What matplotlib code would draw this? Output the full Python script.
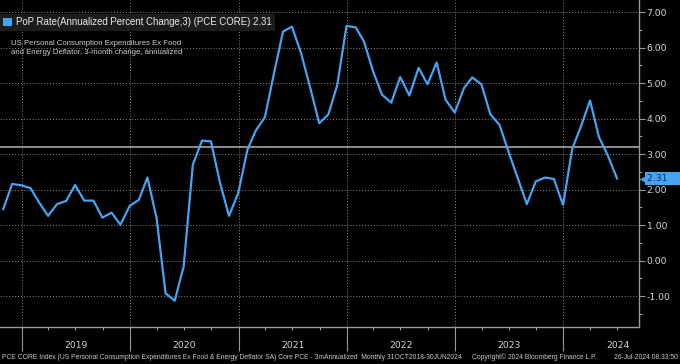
import numpy as np
import pandas as pd
import matplotlib
matplotlib.use('Agg')
import matplotlib.pyplot as plt
import matplotlib.dates as mdates
import matplotlib.transforms as mtransforms
from matplotlib.patches import Patch

# PCE core, 3-month change annualized, month-end Oct 2018 .. Jun 2024
fechas = pd.date_range('2018-10-31', periods=69, freq='ME')
pce_3m = [1.45, 2.16, 2.12,
          2.04, 1.65, 1.26, 1.59, 1.68, 2.13, 1.69, 1.69, 1.21, 1.35, 1.01, 1.54,   # 2019
          1.71, 2.34, 1.19, -0.92, -1.13, -0.17, 2.70, 3.38, 3.36, 2.18, 1.26, 1.90,  # 2020
          3.12, 3.66, 4.04, 5.25, 6.45, 6.59, 5.84, 4.86, 3.87, 4.12, 4.95, 6.61,  # 2021
          6.57, 6.17, 5.32, 4.67, 4.45, 5.17, 4.65, 5.43, 4.97, 5.58, 4.53, 4.17,  # 2022
          4.86, 5.16, 4.96, 4.12, 3.82, 3.07, 2.33, 1.59, 2.23, 2.34, 2.30, 1.57,  # 2023
          3.15, 3.77, 4.51, 3.48, 2.94, 2.31]                                      # 2024
linea_ref = 3.21
anios = [2019, 2020, 2021, 2022, 2023, 2024]
y_ticks = [-1, 0, 1, 2, 3, 4, 5, 6, 7]

titulo = 'PoP Rate(Annualized Percent Change,3) (PCE CORE) 2.31'
descripcion = 'US Personal Consumption Expenditures Ex Food\nand Energy Deflator, 3-month change, annualized'
pie_izq = ('PCE CORE Index (US Personal Consumption Expenditures Ex Food & Energy Deflator SA) '
           'Core PCE - 3mAnnualized  Monthly 31OCT2018-30JUN2024')
pie_copy = 'Copyright\u00a9 2024 Bloomberg Finance L.P.'
pie_fecha = '26-Jul-2024 08:33:50'

azul = '#45a3f2'
gris = '#9a9a9a'
texto = '#d6d6d6'

W, H = 680, 364
fig = plt.figure(figsize=(W/100, H/100), dpi=100, facecolor='black')
ax = fig.add_axes([0, 1-327/H, 639/W, 327/H], facecolor='black')

ax.plot(fechas, pce_3m, color=azul, lw=1.6, zorder=3)
ax.axhline(linea_ref, color='#b4b4b4', lw=1.1, zorder=2)

ax.set_xlim(pd.Timestamp('2018-10-20'), pd.Timestamp('2024-09-12'))
ax.set_ylim(-1.87, 7.34)

# ejes
for s in ['top', 'left']:
    ax.spines[s].set_visible(False)
for s in ['right', 'bottom']:
    ax.spines[s].set_color(gris)
    ax.spines[s].set_linewidth(1.0)

ax.yaxis.tick_right()
ax.set_yticks(y_ticks)
ax.set_yticklabels([f'{v:.2f}' for v in y_ticks])
ax.set_yticks(np.arange(-1.5, 7.5, 1.0), minor=True)
ax.tick_params(axis='y', which='major', direction='out', length=4, width=0.8,
               color=gris, labelcolor=texto, labelsize=6.7, pad=1.5)
ax.tick_params(axis='y', which='minor', direction='out', length=2.5, width=0.8, color=gris)

ax.xaxis.set_major_locator(mdates.YearLocator())
ax.xaxis.set_minor_locator(mdates.MonthLocator(bymonth=[4, 7, 10]))
ax.tick_params(axis='x', which='major', direction='out', length=17, width=0.8,
               color=gris, labelbottom=False)
ax.tick_params(axis='x', which='minor', direction='out', length=2.5, width=0.8, color=gris)

ax.grid(which='major', ls=(0, (1, 2)), color='#8c8c8c', lw=0.7)

# etiquetas de años
for a in anios:
    ax.text(pd.Timestamp(f'{a}-07-02'), -0.058, str(a), transform=ax.get_xaxis_transform(),
            ha='center', va='center', color=texto, fontsize=6.6, clip_on=False)

# valor último
ultimo = pce_3m[-1]
trans = mtransforms.blended_transform_factory(ax.transAxes, ax.transData)
ax.text(1.012, ultimo, f'{ultimo:.2f}    ', transform=trans, ha='left', va='center',
        color='#0b2a55', fontsize=6.7,
        bbox=dict(boxstyle='square,pad=0.22', fc=azul, ec='none'), clip_on=False, zorder=5)
ax.plot([1.006], [ultimo], marker='<', ms=5.5, color=azul, mec='none',
        transform=trans, clip_on=False, zorder=5)

# leyenda
leg = ax.legend([Patch(fc=azul)], [titulo], loc='upper left', bbox_to_anchor=(0.0, 1-14/327),
                fontsize=6.9, handlelength=0.9, handleheight=0.9, handletextpad=0.4,
                borderaxespad=0, borderpad=0.35, fancybox=False, frameon=True,
                prop={'family': ['Liberation Sans', 'DejaVu Sans'], 'size': 6.9})
leg.get_frame().set_facecolor('#1c1c1c')
leg.get_frame().set_edgecolor('none')
leg.get_frame().set_alpha(1)
for t in leg.get_texts():
    t.set_color('#ececec')

fig.text(11/W, 1-40/H, descripcion, ha='left', va='top', color='#cfcfcf', fontsize=5.6,
         linespacing=1.3, family=['Liberation Sans', 'DejaVu Sans'])

# pie
fig.text(2/W, 1-357.5/H, pie_izq, ha='left', va='center', color='#c8c8c8', fontsize=4.9,
         family=['Liberation Sans', 'DejaVu Sans'])
fig.text(472/W, 1-357.5/H, pie_copy, ha='left', va='center', color='#c8c8c8', fontsize=4.9,
         family=['Liberation Sans', 'DejaVu Sans'])
fig.text(678/W, 1-357.5/H, pie_fecha, ha='right', va='center', color='#c8c8c8', fontsize=4.9,
         family=['Liberation Sans', 'DejaVu Sans'])

fig.savefig('out.png', dpi=100, facecolor='black')
